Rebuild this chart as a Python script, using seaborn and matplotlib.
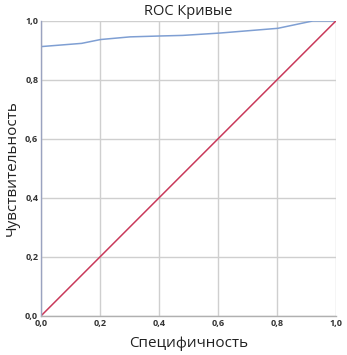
import matplotlib
matplotlib.use("Agg")
import matplotlib.pyplot as plt
import seaborn as sns
import pandas as pd
from matplotlib.ticker import FuncFormatter

sns.set_theme(style="white")
plt.rcParams['font.family'] = ['Open Sans', 'DejaVu Sans']

title = "ROC Кривые"
xlabel = "Специфичность"
ylabel = "Чувствительность"

roc_x = [0.0, 0.138, 0.202, 0.302, 0.403, 0.481, 0.607, 0.803, 0.922, 1.0]
roc_y = [0.913, 0.924, 0.937, 0.946, 0.949, 0.951, 0.959, 0.975, 1.0, 1.0]
ref_x = [0.0, 1.0]
ref_y = [0.0, 1.0]
ticks = [0.0, 0.2, 0.4, 0.6, 0.8, 1.0]

fig = plt.figure(figsize=(3.47, 3.55), dpi=100)
ax = fig.add_axes([0.118, 0.110, 0.850, 0.831])

sns.lineplot(x=roc_x, y=roc_y, ax=ax, color="#7f9fd3", linewidth=1.1, estimator=None, sort=False)
sns.lineplot(x=ref_x, y=ref_y, ax=ax, color="#c9395a", linewidth=1.1, estimator=None, sort=False)

ax.set_xlim(0, 1)
ax.set_ylim(0, 1)
ax.set_xticks(ticks)
ax.set_yticks(ticks)
fmt = FuncFormatter(lambda v, p: f"{v:.1f}".replace(".", ","))
ax.xaxis.set_major_formatter(fmt)
ax.yaxis.set_major_formatter(fmt)
ax.tick_params(axis="both", labelsize=6.5, length=0, pad=2)
for lab in ax.get_xticklabels() + ax.get_yticklabels():
    lab.set_fontweight("bold")
    lab.set_color("#333333")
ax.grid(True, color="#cfcfcf", linewidth=1.0)
ax.set_axisbelow(True)
for s in ["top", "right"]:
    ax.spines[s].set_visible(False)
ax.spines["left"].set_color("#9aa3c0")
ax.spines["bottom"].set_color("#b0b0b0")
ax.spines["left"].set_linewidth(1.0)
ax.spines["bottom"].set_linewidth(1.0)

ax.set_title(title, fontsize=10.5, pad=4, color="#222222")
ax.set_xlabel(xlabel, fontsize=11, labelpad=6, color="#222222")
ax.set_ylabel(ylabel, fontsize=11, labelpad=4, color="#222222")

fig.savefig("out.png", dpi=100)
